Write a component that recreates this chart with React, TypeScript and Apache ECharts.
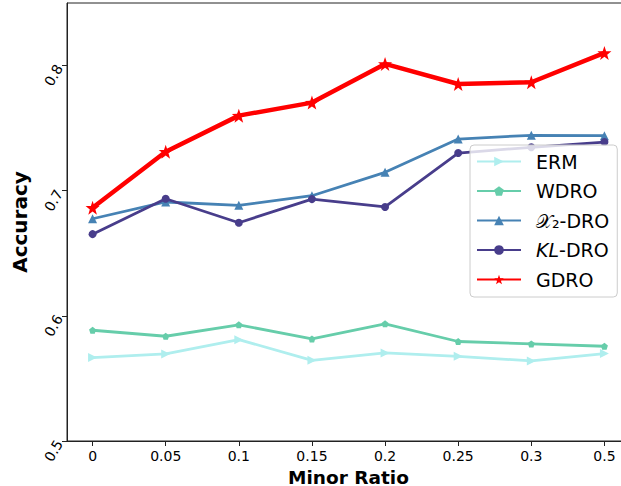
import React, { useEffect, useRef } from "react";
import * as echarts from "echarts";

const categories = ["0", "0.05", "0.1", "0.15", "0.2", "0.25", "0.3", "0.5"];
const yTicks = [0.5, 0.6, 0.7, 0.8];
const ermValues = [0.5667, 0.5696, 0.581, 0.5645, 0.5704, 0.5677, 0.564, 0.5699];
const wdroValues = [0.5885, 0.5837, 0.5928, 0.5816, 0.5936, 0.5795, 0.5776, 0.5757];
const x2droValues = [0.6776, 0.691, 0.6883, 0.696, 0.7147, 0.7413, 0.7443, 0.744];
const kldroValues = [0.6653, 0.6936, 0.6744, 0.6933, 0.687, 0.7301, 0.7347, 0.7389];
const gdroValues = [0.6864, 0.7312, 0.76, 0.7704, 0.8013, 0.7853, 0.7867, 0.8101];

const STAR =
  "path://M0,-10L2.35,-3.24L9.51,-3.09L3.8,1.24L5.88,8.09L0,4L-5.88,8.09L-3.8,1.24L-9.51,-3.09L-2.35,-3.24Z";
const PENTAGON = "path://M0,-10L9.51,-3.09L5.88,8.09L-5.88,8.09L-9.51,-3.09Z";

const FONT = "DejaVu Sans";
const SPINE = "#222";

export default function App() {
  const ref = useRef<HTMLDivElement>(null);
  useEffect(() => {
    document.body.style.margin = "0";
    document.body.style.overflow = "hidden";
    const chart = echarts.init(ref.current!, null, { renderer: "svg" });
    const toData = (vals: number[]) => vals.map((v, i) => [i, v]);
    const mk = (
      name: string,
      vals: number[],
      color: string,
      symbol: string,
      size: number,
      width: number,
      rotate = 0
    ) => ({
      name,
      type: "line",
      data: toData(vals),
      symbol,
      symbolSize: size,
      symbolRotate: rotate,
      showAllSymbol: true,
      lineStyle: { color, width },
      itemStyle: { color },
      emphasis: { disabled: true },
    });
    chart.setOption({
      animation: false,
      textStyle: { fontFamily: FONT },
      grid: {
        left: 67,
        top: 3,
        width: 563,
        height: 438,
        outerBoundsMode: "none",
        containLabel: false,
        show: true,
        borderColor: SPINE,
        borderWidth: 1,
        backgroundColor: "transparent",
      },
      xAxis: {
        type: "value",
        min: -0.35,
        max: 7.35,
        name: "Minor Ratio",
        nameLocation: "middle",
        nameGap: 20,
        nameTextStyle: {
          fontSize: 18.5,
          lineHeight: 19,
          fontWeight: "bold",
          color: "#000",
          fontFamily: FONT,
        },
        axisLine: { onZero: false, lineStyle: { color: SPINE, width: 1 } },
        axisTick: { customValues: categories.map((_, i) => i), length: 5, lineStyle: { color: SPINE } },
        axisLabel: {
          customValues: categories.map((_, i) => i),
          formatter: (v: number) => categories[Math.round(v)],
          fontSize: 14,
          color: "#000",
          fontFamily: FONT,
          margin: 8,
        },
        splitLine: { show: false },
      },
      yAxis: {
        type: "value",
        min: 0.5,
        max: 0.85,
        name: "Accuracy",
        nameLocation: "middle",
        nameGap: 37,
        nameTextStyle: { fontSize: 20, fontWeight: "bold", color: "#000", fontFamily: FONT },
        axisLine: { show: true, onZero: false, lineStyle: { color: SPINE, width: 1 } },
        axisTick: { show: true, customValues: yTicks, length: 5, lineStyle: { color: SPINE } },
        axisLabel: {
          customValues: yTicks,
          formatter: (v: number) => String(Math.round(v * 10) / 10),
          rotate: 60,
          fontSize: 14,
          color: "#000",
          fontFamily: FONT,
          margin: 8,
        },
        splitLine: { show: false },
      },
      legend: {
        orient: "vertical",
        left: 470,
        top: 145,
        padding: [7, 8, 8, 6],
        itemWidth: 44,
        itemHeight: 12,
        itemGap: 10.5,
        backgroundColor: "rgba(255,255,255,0.8)",
        borderColor: "#ccc",
        borderWidth: 1,
        borderRadius: 4,
        formatter: (name: string) => (name === "KL-DRO" ? "{i|KL}-DRO" : name),
        textStyle: {
          fontSize: 19,
          color: "#000",
          fontFamily: FONT,
          padding: [0, 0, 0, 10],
          rich: { i: { fontStyle: "italic", fontSize: 19, fontFamily: FONT, color: "#000" } },
        },
      },
      series: [
        mk("ERM", ermValues, "#afeeee", "triangle", 9, 2.8, -90),
        mk("WDRO", wdroValues, "#66cdaa", PENTAGON, 7, 2.8),
        mk("𝒳₂-DRO", x2droValues, "#4682b4", "triangle", 9, 2.8),
        mk("KL-DRO", kldroValues, "#483d8b", "circle", 8, 2.8),
        mk("GDRO", gdroValues, "#ff0000", STAR, 14, 4.5),
      ],
    });
    return () => chart.dispose();
  }, []);
  return (
    <div style={{ width: 621, height: 486, overflow: "hidden", background: "#fff" }}>
      <div ref={ref} style={{ width: 640, height: 486 }} />
    </div>
  );
}
